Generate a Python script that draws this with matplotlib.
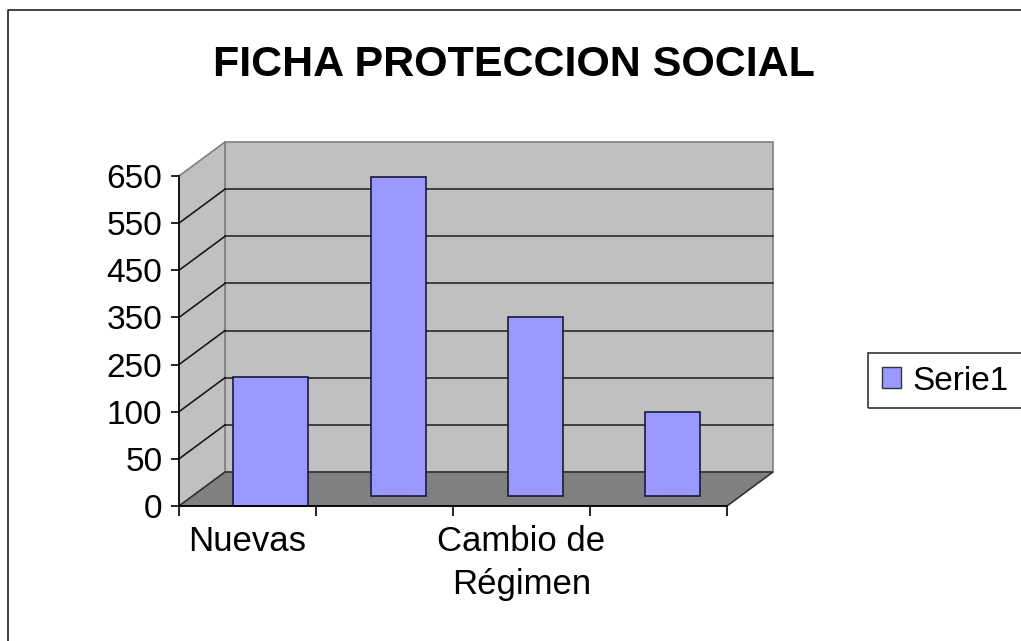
import numpy as np
import matplotlib
matplotlib.use('Agg')
import matplotlib.pyplot as plt
import matplotlib.transforms as mtrans
from matplotlib.patches import Polygon, Patch, Rectangle
from matplotlib.lines import Line2D

# ---- data ----
categories = ['Nuevas', '', 'Cambio de\nRégimen', '']
values = [211, 627, 330, 89]
ytick_values = [0, 50, 100, 250, 350, 450, 550, 650]
series_name = 'Serie1'
title = 'FICHA PROTECCION SOCIAL'

# ---- styles ----
bar_widths = [0.55, 0.40, 0.40, 0.40]
bar_shift_px = [(23, 0), (14, 10), (14, 10), (14, 10)]
DX, DY = 46, 34  # depth offset in pixels
FONT = 'Liberation Sans'

W, H = 1021, 641
plt.rcParams['font.family'] = [FONT, 'DejaVu Sans']
fig = plt.figure(figsize=(W / 100, H / 100), dpi=100)
fig.patch.set_facecolor('white')
ax = fig.add_axes([179 / W, 1 - 506 / H, 548 / W, 330 / H])
ax.patch.set_visible(False)

pos = np.arange(len(ytick_values), dtype=float)


def fwd(v):
    return np.interp(v, ytick_values, pos)


def inv(p):
    return np.interp(p, pos, ytick_values)


ax.set_yscale('function', functions=(fwd, inv))
ax.set_xlim(0, len(categories))
ax.set_ylim(ytick_values[0], ytick_values[-1])
ax.set_autoscale_on(False)

back = mtrans.offset_copy(ax.transData, fig=fig, x=DX, y=DY, units='dots')


def disp(x, y, d):
    p = ax.transData.transform((x, y))
    return (p[0] + DX * d, p[1] + DY * d)


ident = mtrans.IdentityTransform()
ymin, ymax = ytick_values[0], ytick_values[-1]
n = len(categories)

# back wall
back_wall = Polygon([disp(0, ymin, 1), disp(n, ymin, 1), disp(n, ymax, 1), disp(0, ymax, 1)],
                    closed=True, transform=ident, facecolor='#c0c0c0', edgecolor='#808080',
                    linewidth=1.2, zorder=0.5, clip_on=False)
ax.add_patch(back_wall)
# side wall
side_wall = Polygon([disp(0, ymin, 0), disp(0, ymin, 1), disp(0, ymax, 1), disp(0, ymax, 0)],
                    closed=True, transform=ident, facecolor='#c0c0c0', edgecolor='#808080',
                    linewidth=1.2, zorder=0.5, clip_on=False)
ax.add_patch(side_wall)

# gridlines on back wall and side wall
for v in ytick_values[1:-1]:
    ax.plot([0, n], [v, v], transform=back, color='#2b2b2b', lw=1.2, zorder=0.8, clip_on=False)
    p0 = disp(0, v, 0)
    p1 = disp(0, v, 1)
    ax.add_line(Line2D([p0[0], p1[0]], [p0[1], p1[1]], transform=ident, color='#1a1a1a',
                       lw=1.2, zorder=0.8, clip_on=False))

# floor
floor = Polygon([disp(0, ymin, 0), disp(n, ymin, 0), disp(n, ymin, 1), disp(0, ymin, 1)],
                closed=True, transform=ident, facecolor='#808080', edgecolor='#333333',
                linewidth=1.2, zorder=0.9, clip_on=False)
ax.add_patch(floor)

# bars
x = np.arange(n) + 0.5
bars = ax.bar(x, values, width=bar_widths, color='#9999ff', edgecolor='#1a1a3a',
              linewidth=1.2, zorder=2, label=series_name)
for b, (sx, sy) in zip(bars, bar_shift_px):
    b.set_transform(mtrans.offset_copy(ax.transData, fig=fig, x=sx, y=sy, units='dots'))
    b.set_clip_on(False)

# spines
for s in ['top', 'right']:
    ax.spines[s].set_visible(False)
for s in ['left', 'bottom']:
    ax.spines[s].set_color('black')
    ax.spines[s].set_linewidth(1.2)
    ax.spines[s].set_zorder(3)

# ticks
ax.set_yticks(ytick_values)
ax.set_yticklabels([str(v) for v in ytick_values])
ax.yaxis.set_minor_locator(matplotlib.ticker.NullLocator())
ax.tick_params(axis='y', which='major', direction='out', length=6, width=1.2,
               labelsize=24, pad=6, colors='black')
ax.set_xticks(np.arange(n + 1))
ax.set_xticklabels([''] * (n + 1))
ax.set_xticks(x, minor=True)
ax.set_xticklabels(categories, minor=True)
ax.tick_params(axis='x', which='major', direction='out', length=7, width=1.2)
ax.tick_params(axis='x', which='minor', length=0, labelsize=25, pad=14)
for lbl in ax.get_xticklabels(minor=True):
    lbl.set_linespacing(1.38)
    lbl.set_verticalalignment('top')

# title
fig.text(514 / W, 1 - 76 / H, title, ha='center', va='baseline', fontsize=31,
         fontweight='bold')

# legend (frame drawn separately so it runs off the right edge like the reference)
fig.add_artist(Rectangle((868 / W, 1 - 408 / H), 0.2, 55 / H, transform=fig.transFigure,
                         fill=False, edgecolor='#333333', linewidth=1.2))
handle = Patch(facecolor='#9999ff', edgecolor='#333333', linewidth=1.0)
leg = fig.legend([handle], [series_name], loc='center left',
                 bbox_to_anchor=(868 / W, 1 - 381 / H), fontsize=24, frameon=False,
                 handlelength=0.57, handleheight=0.57,
                 handletextpad=0.35, borderpad=0.42, borderaxespad=0)

# outer border (left and top visible)
fig.add_artist(Line2D([8 / W, 8 / W, 1.0], [0.0, 1 - 10 / H, 1 - 10 / H],
                      transform=fig.transFigure, color='#222222', lw=1.2))

fig.savefig('out.png', dpi=100, facecolor='white')
